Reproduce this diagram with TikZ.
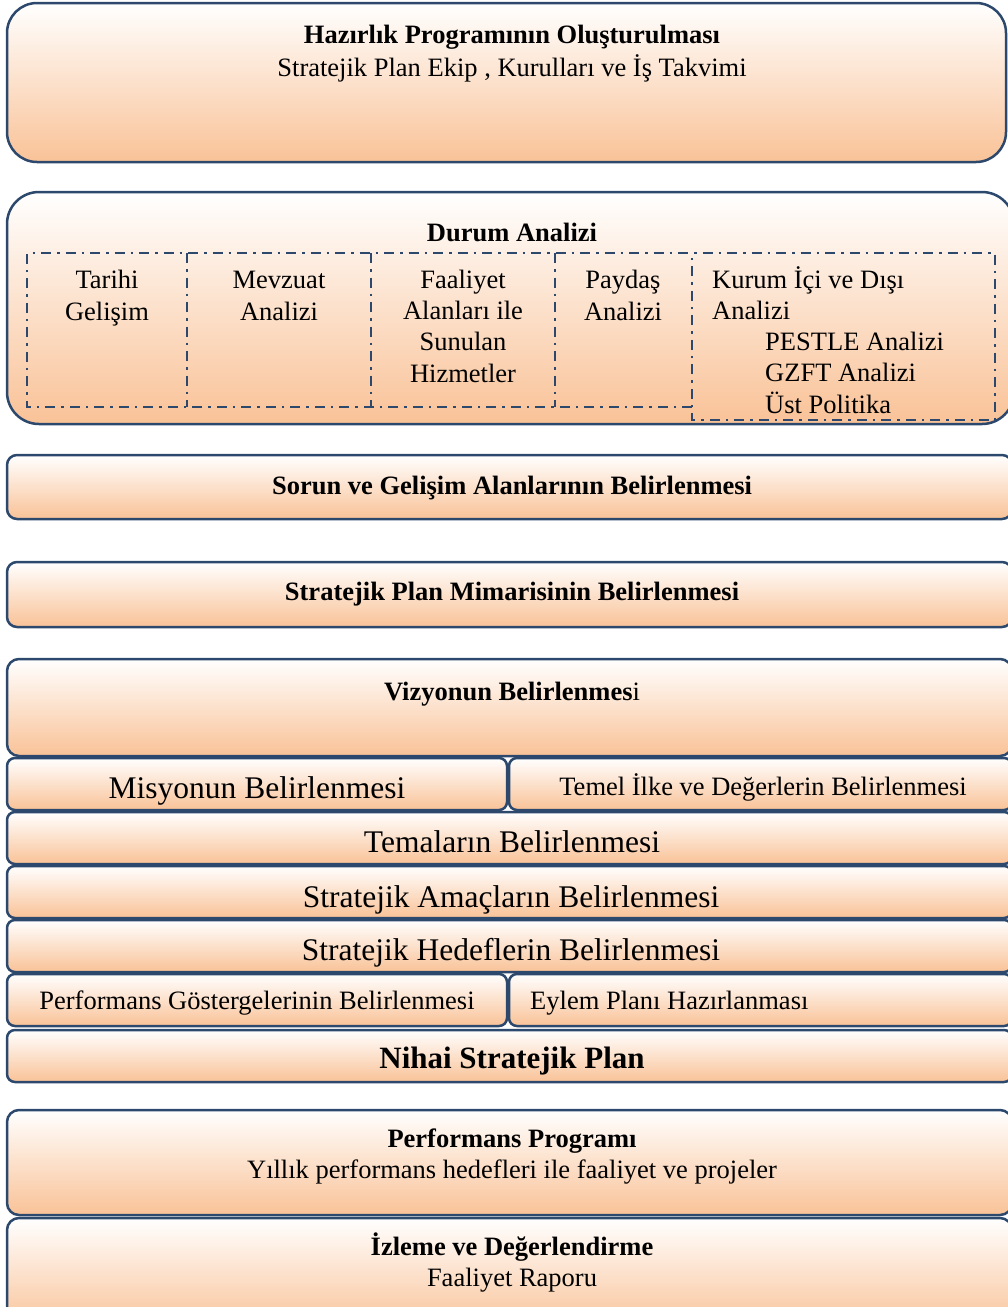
\documentclass[tikz,border=0pt]{standalone}
\usepackage{fontspec}
\setmainfont{Liberation Serif}
\definecolor{bord}{RGB}{44,72,108}
\definecolor{peach}{RGB}{249,194,151}
\begin{document}
\begin{tikzpicture}[x=1pt,y=-1pt,
 box/.style={draw=bord, line width=2.5pt, top color=white, bottom color=peach, rounded corners=#1},
 box/.default=10pt,
 dd/.style={draw=bord, line width=2.4pt, dash pattern=on 10pt off 6pt on 2.5pt off 6pt},
 t/.style={anchor=base, inner sep=0pt, font=\fontsize{26.5}{31}\selectfont},
 tb/.style={anchor=base, inner sep=0pt, font=\fontsize{26.5}{31}\selectfont\bfseries},
 tl/.style={anchor=base west, inner sep=0pt, font=\fontsize{26.5}{31}\selectfont},
 p/.style={anchor=base, inner sep=0pt, font=\fontsize{31.5}{36}\selectfont},
 pb/.style={anchor=base, inner sep=0pt, font=\fontsize{31}{36}\selectfont\bfseries},
]
\useasboundingbox (0,0) rectangle (1008,1307);
\clip (0,0) rectangle (1008,1307);
% boxes
\path[box=30pt] (7,3) rectangle (1006,162);
\path[box=32pt] (7,192) rectangle (1014,424);
\path[box] (7,455) rectangle (1012,519);
\path[box] (7,562) rectangle (1012,627);
\path[box=12pt] (7,659) rectangle (1012,756);
\path[box=8pt] (7,758) rectangle (507,810);
\path[box=8pt] (509,758) rectangle (1012,810);
\path[box=8pt] (7,812) rectangle (1012,864);
\path[box=8pt] (7,866) rectangle (1012,918);
\path[box=8pt] (7,920) rectangle (1012,972);
\path[box=8pt] (7,974) rectangle (507,1026);
\path[box=8pt] (509,974) rectangle (1012,1026);
\path[box=8pt] (7,1030) rectangle (1012,1082);
\path[box=12pt] (7,1110) rectangle (1012,1215);
\path[box=12pt] (7,1218) rectangle (1012,1330);
% dash-dot cells of Durum Analizi
\draw[dd] (692,407) -- (27,407) -- (27,253) -- (995,253) -- (995,420) -- (692,420) -- (692,253);
\draw[dd] (187,253) -- (187,407);
\draw[dd] (371,253) -- (371,407);
\draw[dd] (555,253) -- (555,407);
% texts
\node[tb] (h1) at (512,43) {Hazırlık Programının Oluşturulması};
\node[t] (h1s) at (512,76) {Stratejik Plan Ekip , Kurulları ve İş Takvimi};
\node[tb] (da) at (512,241) {Durum Analizi};
\node[t] (c1a) at (107,288) {Tarihi};
\node[t] (c1b) at (107,320) {Gelişim};
\node[t] (c2a) at (279,288) {Mevzuat};
\node[t] (c2b) at (279,320) {Analizi};
\node[t] (c3a) at (463,288) {Faaliyet};
\node[t] (c3b) at (463,319) {Alanları ile};
\node[t] (c3c) at (463,350) {Sunulan};
\node[t] (c3d) at (463,382) {Hizmetler};
\node[t] (c4a) at (623,288) {Paydaş};
\node[t] (c4b) at (623,320) {Analizi};
\node[tl] (c5a) at (712,288) {Kurum İçi ve Dışı};
\node[tl] (c5b) at (712,319) {Analizi};
\node[tl] (c5c) at (765,350) {PESTLE Analizi};
\node[tl] (c5d) at (765,381) {GZFT Analizi};
\node[tl] (c5e) at (765,413) {Üst Politika};
\node[tb] (sg) at (512,494) {Sorun ve Gelişim Alanlarının Belirlenmesi};
\node[tb] (sp) at (512,600) {Stratejik Plan Mimarisinin Belirlenmesi};
\node[t] (vz) at (512,700) {\textbf{Vizyonun Belirlenmes}i};
\node[p] (ms) at (257,798) {Misyonun Belirlenmesi};
\node[t] (ti) at (763,795) {Temel İlke ve Değerlerin Belirlenmesi};
\node[p] (tm) at (512,852) {Temaların Belirlenmesi};
\node[p] (sa) at (511,907) {Stratejik Amaçların Belirlenmesi};
\node[p] (sh) at (511,960) {Stratejik Hedeflerin Belirlenmesi};
\node[t] (pg) at (257,1009) {Performans Göstergelerinin Belirlenmesi};
\node[tl] (ep) at (530,1009) {Eylem Planı Hazırlanması};
\node[pb] (ns) at (512,1068) {Nihai Stratejik Plan};
\node[tb] (pp) at (512,1147) {Performans Programı};
\node[t] (pps) at (512,1178) {Yıllık performans hedefleri ile faaliyet ve projeler};
\node[tb] (iz) at (512,1255) {İzleme ve Değerlendirme};
\node[t] (fr) at (512,1286) {Faaliyet Raporu};
\end{tikzpicture}
\end{document}
